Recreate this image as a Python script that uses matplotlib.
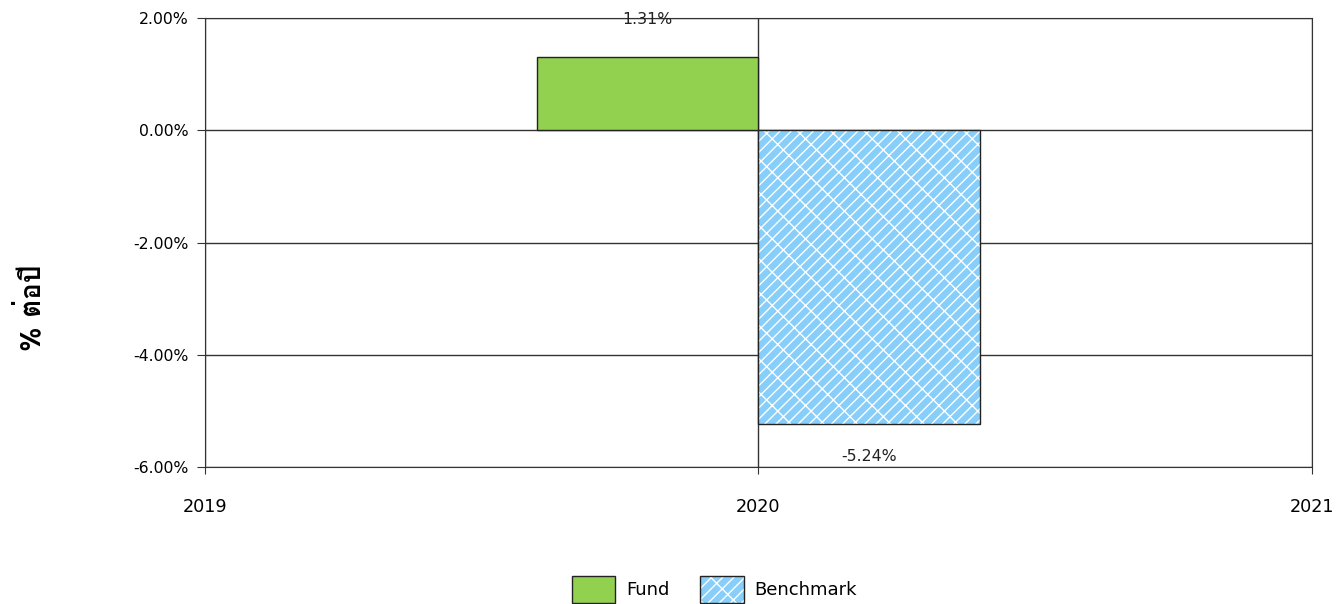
import matplotlib
matplotlib.use("Agg")
import matplotlib.pyplot as plt
from matplotlib import font_manager
from matplotlib.ft2font import FT2Font
from matplotlib.patches import Patch

# --- data ---
years = [2019, 2020, 2021]
fund_value = 1.31
bench_value = -5.24
bar_year = 2020
y_ticks = [2, 0, -2, -4, -6]
y_label = "% ต่อปี"

fund_color = "#92D050"
bench_color = "#87CEFA"
line_color = "#333333"
bench_hatch = "///\\"


def find_thai_font():
    # look through installed fonts for one that has Thai glyphs
    for f in font_manager.fontManager.ttflist:
        try:
            cmap = FT2Font(f.fname).get_charmap()
        except Exception:
            continue
        if ord("ต") in cmap and ord("ป") in cmap:
            return f.name
    return "DejaVu Sans"


plt.rcParams["font.family"] = ["DejaVu Sans"]
plt.rcParams["hatch.linewidth"] = 1.0

fig = plt.figure(figsize=(13.43, 6.04), dpi=100)
ax = fig.add_axes([0.1526, 0.2268, 0.8243, 0.7434])

# fund bar sits left of 2020, benchmark right of it
ax.bar(bar_year, fund_value, width=-0.4, align="edge", color=fund_color,
       edgecolor="#222222", linewidth=1, zorder=3)
ax.bar(bar_year, bench_value, width=0.4, align="edge", color=bench_color,
       edgecolor="white", hatch=bench_hatch, linewidth=0, zorder=3)
ax.bar(bar_year, bench_value, width=0.4, align="edge", fill=False,
       edgecolor="#222222", linewidth=1, zorder=4)

ax.annotate(f"{fund_value:.2f}%", (bar_year - 0.2, fund_value), xytext=(0, 27),
            textcoords="offset points", ha="center", va="center", fontsize=11.3, color="#222222")
ax.annotate(f"{bench_value:.2f}%", (bar_year + 0.2, bench_value), xytext=(0, -23),
            textcoords="offset points", ha="center", va="center", fontsize=11.3, color="#222222")

ax.set_xlim(years[0], years[-1])
ax.set_ylim(y_ticks[-1], y_ticks[0])
ax.set_xticks(years)
ax.set_xticklabels([str(y) for y in years])
ax.set_yticks(y_ticks)
ax.set_yticklabels([f"{v:.2f}%" for v in y_ticks])

ax.grid(True, color=line_color, linewidth=1, zorder=1)
ax.set_axisbelow(True)
for side in ["top", "right", "bottom", "left"]:
    ax.spines[side].set_color(line_color)
ax.tick_params(axis="y", direction="out", length=6, color=line_color, labelsize=11.3, pad=6)
ax.tick_params(axis="x", direction="out", length=5, color=line_color, labelsize=12.7, pad=17)

ax.set_ylabel(y_label, fontsize=20, fontweight="bold",
              family=[find_thai_font(), "DejaVu Sans"])
ax.yaxis.set_label_coords(-0.1445, 0.355)

fund_handle = Patch(facecolor=fund_color, edgecolor="#222222")
bench_handle = (Patch(facecolor=bench_color, edgecolor="white", hatch=bench_hatch, linewidth=0),
                Patch(fill=False, edgecolor="#222222"))
fig.legend([fund_handle, bench_handle], ["Fund", "Benchmark"], loc="center",
           bbox_to_anchor=(0.532, 0.024), ncol=2, frameon=False, fontsize=13,
           handlelength=2.4, handleheight=1.9, handletextpad=0.6, columnspacing=1.7)

fig.savefig("out.png", dpi=100)
